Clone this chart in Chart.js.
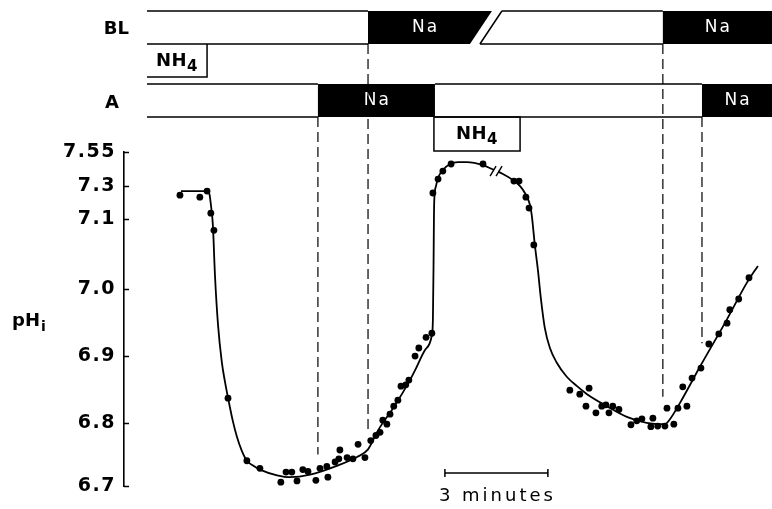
<!DOCTYPE html>
<html>
<head>
<meta charset="utf-8">
<script src="https://cdn.jsdelivr.net/npm/chart.js@4.4.0/dist/chart.umd.min.js"></script>
<style>
  html, body { margin: 0; padding: 0; background: #fff; }
</style>
</head>
<body>
<canvas id="phChart" width="772" height="509"></canvas>
<script>
// pH axis: ticks are not evenly spaced, the part above 7.1 is squeezed
const phTicks = [6.7, 6.8, 6.9, 7.0, 7.1, 7.3, 7.55];
const phTickLabels = ['6.7', '6.8', '6.9', '7.0', '7.1', '7.3', '7.55'];
const phTickSpacing = [0, 0.189, 0.389, 0.590, 0.799, 0.898, 1];

// measured pHi (time in minutes)
const dotTimes = [0.96, 1.54, 1.75, 1.86, 1.95, 2.36, 2.91, 3.29, 3.90, 4.05,
  4.22, 4.37, 4.54, 4.69, 4.92, 5.04, 5.24, 5.27, 5.48, 5.59,
  5.62, 5.83, 6.00, 6.15, 6.35, 6.52, 6.67, 6.79, 6.87, 6.99,
  7.08, 7.19, 7.31, 7.40, 7.54, 7.63, 7.81, 7.92, 8.13, 8.30,
  8.33, 8.48, 8.62, 8.86, 9.79, 10.69, 10.84, 11.04, 11.13, 11.27,
  12.32, 12.61, 12.88, 12.79, 13.08, 13.25, 13.37, 13.46, 13.57, 13.75,
  14.10, 14.27, 14.42, 14.68, 14.74, 14.88, 15.09, 15.15, 15.35, 15.47,
  15.61, 15.73, 15.88, 16.14, 16.37, 16.66, 16.90, 16.98, 17.24, 17.54];
const dotPH = [7.245, 7.233, 7.270, 7.136, 7.084, 6.837, 6.740, 6.728, 6.706, 6.722,
  6.722, 6.708, 6.726, 6.723, 6.709, 6.728, 6.731, 6.714, 6.738, 6.743,
  6.757, 6.745, 6.743, 6.766, 6.745, 6.772, 6.780, 6.785, 6.804, 6.798,
  6.813, 6.825, 6.834, 6.855, 6.857, 6.864, 6.900, 6.912, 6.928, 6.934,
  7.258, 7.351, 7.410, 7.462, 7.462, 7.337, 7.337, 7.233, 7.167, 7.063,
  6.849, 6.843, 6.852, 6.825, 6.815, 6.825, 6.827, 6.815, 6.825, 6.820,
  6.797, 6.803, 6.806, 6.794, 6.807, 6.795, 6.795, 6.822, 6.798, 6.822,
  6.854, 6.825, 6.867, 6.882, 6.918, 6.933, 6.949, 6.969, 6.985, 7.016];

// hand-fitted trace through the points
const fitTimes = [0.99, 1.75, 1.82, 1.86, 1.92, 1.98, 2.07, 2.18, 2.27, 2.39,
  2.50, 2.62, 2.76, 2.91, 3.10, 3.29, 3.79, 4.17, 4.75, 5.53, 6.12, 6.44,
  6.70, 6.87, 7.08, 7.28, 7.46, 7.66, 7.86, 8.10, 8.30, 8.33,
  8.35, 8.36, 8.37, 8.42, 8.48, 8.62, 8.83, 9.06, 9.32, 9.79,
  10.05, 10.37, 10.66, 10.87, 11.01, 11.16, 11.21, 11.30, 11.39, 11.48,
  11.59, 11.74, 11.94, 12.23, 12.53, 12.82, 13.40, 13.98, 14.56, 15.09,
  15.23, 15.53, 16.11, 16.89, 17.48, 17.80];
const fitPH = [7.270, 7.270, 7.250, 7.190, 7.091, 7.020, 6.946, 6.891, 6.862, 6.830,
  6.803, 6.778, 6.756, 6.740, 6.732, 6.726, 6.717, 6.714, 6.718, 6.732, 6.746, 6.758,
  6.785, 6.800, 6.815, 6.831, 6.846, 6.864, 6.884, 6.909, 6.931, 6.954,
  7.041, 7.100, 7.215, 7.300, 7.359, 7.418, 7.462, 7.476, 7.476, 7.454,
  7.425, 7.388, 7.344, 7.300, 7.258, 7.185, 7.124, 7.063, 7.027, 6.984,
  6.942, 6.912, 6.890, 6.869, 6.855, 6.843, 6.825, 6.809, 6.800, 6.798,
  6.805, 6.830, 6.884, 6.954, 7.009, 7.033];

// solution protocol, basolateral (BL) and apical (A) sides
const blStart = [0, 6.44, 9.70, 15.03];
const blEnd = [6.44, 9.41, 15.03, 18.21];
const blLabels = ['', 'Na', '', 'Na'];
const aStart = [0, 4.98, 8.39, 16.17];
const aEnd = [4.98, 8.39, 16.17, 18.21];
const aLabels = ['', 'Na', '', 'Na'];
const nh4Start = [0, 8.36];
const nh4End = [1.75, 10.87];

// dashed markers: Na switch times and where they stop on the trace
const dashTimes = [4.98, 6.44, 15.03, 16.17];
const dashSide = ['A', 'BL', 'BL', 'A'];
const dashEndPH = [6.750, 6.785, 6.839, 6.919];

const breakTime = 10.17, breakPH = 7.41;   // gap in the recording
const breakSlant = 0.64;                   // lean of the cut in the BL bar
const scaleBarStart = 8.68, scaleBarMinutes = 3;

class PhScale extends Chart.LinearScale {
  static id = 'phscale';
  static defaults = {};
  buildTicks() {
    return phTicks.map(v => ({ value: v }));
  }
  toDecimal(v) {
    for (let i = 1; i < phTicks.length; i++) {
      if (v <= phTicks[i] || i === phTicks.length - 1) {
        const f = (v - phTicks[i - 1]) / (phTicks[i] - phTicks[i - 1]);
        return phTickSpacing[i - 1] + f * (phTickSpacing[i] - phTickSpacing[i - 1]);
      }
    }
  }
  getPixelForValue(v) {
    return this.getPixelForDecimal(this.toDecimal(v));
  }
  getValueForPixel(p) {
    const d = this.getDecimalForPixel(p);
    for (let i = 1; i < phTickSpacing.length; i++) {
      if (d <= phTickSpacing[i] || i === phTickSpacing.length - 1) {
        const f = (d - phTickSpacing[i - 1]) / (phTickSpacing[i] - phTickSpacing[i - 1]);
        return phTicks[i - 1] + f * (phTicks[i] - phTicks[i - 1]);
      }
    }
  }
}
Chart.register(PhScale);

const rowBL = { top: 11, bottom: 44 };
const rowA = { top: 84, bottom: 117 };
const nh4Bottom = [77, 151];

function drawRow(ctx, x, starts, ends, labels, row, breakAfter) {
  starts.forEach((s, i) => {
    const lean0 = (breakAfter !== null && i === breakAfter + 1) ? breakSlant : 0;
    const lean1 = (breakAfter !== null && i === breakAfter) ? breakSlant : 0;
    const bl = x.getPixelForValue(s), tl = x.getPixelForValue(s + lean0);
    const br = x.getPixelForValue(ends[i]), tr = x.getPixelForValue(ends[i] + lean1);
    if (labels[i]) {
      ctx.fillStyle = '#000';
      ctx.beginPath();
      ctx.moveTo(bl, row.bottom);
      ctx.lineTo(br, row.bottom);
      ctx.lineTo(tr, row.top);
      ctx.lineTo(tl, row.top);
      ctx.closePath();
      ctx.fill();
      ctx.fillStyle = '#fff';
      ctx.font = '17px "DejaVu Sans"';
      ctx.letterSpacing = '2px';
      ctx.textAlign = 'center';
      ctx.textBaseline = 'middle';
      ctx.fillText(labels[i], (bl + br + tl + tr) / 4 + 1, (row.top + row.bottom) / 2);
    } else {
      ctx.beginPath();
      ctx.moveTo(tl, row.top);
      ctx.lineTo(tr, row.top);
      ctx.moveTo(bl, row.bottom);
      ctx.lineTo(br, row.bottom);
      if (lean0) {
        ctx.moveTo(bl, row.bottom);
        ctx.lineTo(tl, row.top);
      }
      ctx.stroke();
    }
  });
}

function drawNH4(ctx, cx, cy) {
  ctx.fillStyle = '#000';
  ctx.letterSpacing = '0.5px';
  ctx.textBaseline = 'alphabetic';
  ctx.textAlign = 'left';
  ctx.font = 'bold 18px "DejaVu Sans"';
  const w1 = ctx.measureText('NH').width;
  ctx.font = 'bold 15px "DejaVu Sans"';
  const w2 = ctx.measureText('4').width;
  const x0 = cx - (w1 + w2) / 2;
  ctx.font = 'bold 18px "DejaVu Sans"';
  ctx.fillText('NH', x0, cy + 5);
  ctx.font = 'bold 15px "DejaVu Sans"';
  ctx.fillText('4', x0 + w1, cy + 10);
}

const protocolPlugin = {
  id: 'protocol',
  beforeDraw(chart) {
    chart.ctx.letterSpacing = '1.5px';
  },
  afterDraw(chart) {
    const { ctx, scales: { x, y } } = chart;
    ctx.save();
    ctx.strokeStyle = '#000';
    ctx.lineWidth = 1.5;

    // inward tick marks on the pH axis
    y.ticks.forEach(t => {
      const py = Math.round(y.getPixelForValue(t.value)) + 0.5;
      ctx.beginPath();
      ctx.moveTo(y.right, py);
      ctx.lineTo(y.right + 5, py);
      ctx.stroke();
    });

    // solution bars
    drawRow(ctx, x, blStart, blEnd, blLabels, rowBL, 1);
    drawRow(ctx, x, aStart, aEnd, aLabels, rowA, null);

    // NH4 pulses
    ctx.lineWidth = 1.5;
    const n0l = x.getPixelForValue(nh4Start[0]), n0r = x.getPixelForValue(nh4End[0]);
    ctx.beginPath();
    ctx.moveTo(n0r, rowBL.bottom);
    ctx.lineTo(n0r, nh4Bottom[0]);
    ctx.lineTo(n0l, nh4Bottom[0]);
    ctx.stroke();
    drawNH4(ctx, (n0l + n0r) / 2, (rowBL.bottom + nh4Bottom[0]) / 2);
    const n1l = x.getPixelForValue(nh4Start[1]), n1r = x.getPixelForValue(nh4End[1]);
    ctx.strokeRect(n1l, rowA.bottom, n1r - n1l, nh4Bottom[1] - rowA.bottom);
    drawNH4(ctx, (n1l + n1r) / 2, (rowA.bottom + nh4Bottom[1]) / 2);

    // row names
    ctx.fillStyle = '#000';
    ctx.font = 'bold 18px "DejaVu Sans"';
    ctx.letterSpacing = '0px';
    ctx.textBaseline = 'middle';
    ctx.textAlign = 'right';
    ctx.fillText('BL', 129, 29);
    ctx.textAlign = 'center';
    ctx.fillText('A', 112, 103);

    // pHi axis title
    ctx.textAlign = 'left';
    ctx.textBaseline = 'alphabetic';
    ctx.font = 'bold 18px "DejaVu Sans"';
    ctx.fillText('pH', 12, 326);
    const wpH = ctx.measureText('pH').width;
    ctx.font = 'bold 14px "DejaVu Sans"';
    ctx.fillText('i', 13 + wpH, 331);

    // dashed markers
    ctx.setLineDash([10, 5]);
    ctx.lineWidth = 1.2;
    dashTimes.forEach((t, i) => {
      const px = x.getPixelForValue(t);
      const top = dashSide[i] === 'BL' ? rowBL.bottom : rowA.bottom;
      ctx.beginPath();
      ctx.moveTo(px, top);
      ctx.lineTo(px, y.getPixelForValue(dashEndPH[i]));
      ctx.stroke();
    });
    ctx.setLineDash([]);

    // break in the trace
    const bx = x.getPixelForValue(breakTime), by = y.getPixelForValue(breakPH);
    ctx.fillStyle = '#fff';
    ctx.fillRect(bx - 2, by - 4, 4, 8);
    ctx.lineWidth = 1.4;
    [-3, 3].forEach(dx => {
      ctx.beginPath();
      ctx.moveTo(bx + dx - 3, by + 5);
      ctx.lineTo(bx + dx + 3, by - 5);
      ctx.stroke();
    });

    // time scale bar
    const s0 = x.getPixelForValue(scaleBarStart);
    const s1 = x.getPixelForValue(scaleBarStart + scaleBarMinutes);
    const sy = 473;
    ctx.lineWidth = 1.5;
    ctx.beginPath();
    ctx.moveTo(s0, sy); ctx.lineTo(s1, sy);
    ctx.moveTo(s0, sy - 4); ctx.lineTo(s0, sy + 4);
    ctx.moveTo(s1, sy - 4); ctx.lineTo(s1, sy + 4);
    ctx.stroke();
    ctx.fillStyle = '#000';
    ctx.font = '18px "DejaVu Sans"';
    ctx.letterSpacing = '3px';
    ctx.textAlign = 'center';
    ctx.textBaseline = 'middle';
    ctx.fillText('3 minutes', (s0 + s1) / 2 + 1, 496);
    ctx.restore();
  }
};

new Chart(document.getElementById('phChart'), {
  type: 'line',
  data: {
    datasets: [{
      data: fitTimes.map((t, i) => ({ x: t, y: fitPH[i] })),
      borderColor: '#000',
      borderWidth: 1.8,
      pointRadius: 0,
      cubicInterpolationMode: 'monotone',
      fill: false
    }, {
      data: dotTimes.map((t, i) => ({ x: t, y: dotPH[i] })),
      showLine: false,
      pointRadius: 3.4,
      pointBackgroundColor: '#000',
      pointBorderWidth: 0
    }]
  },
  options: {
    responsive: false,
    animation: false,
    layout: { autoPadding: false, padding: { top: 152, bottom: 23, left: 0, right: 0 } },
    plugins: { legend: { display: false }, tooltip: { enabled: false } },
    scales: {
      x: { type: 'linear', min: -0.67, max: 18.21, display: false },
      y: {
        type: 'phscale',
        min: 6.7,
        max: 7.55,
        border: { display: true, color: '#000', width: 1.6 },
        grid: { display: true, drawOnChartArea: false, drawTicks: false },
        ticks: {
          color: '#000',
          padding: 8,
          font: { family: 'DejaVu Sans', weight: 'bold', size: 19 },
          callback: (v, i) => phTickLabels[i]
        },
        afterFit: s => { s.width = 124; }
      }
    }
  },
  plugins: [protocolPlugin]
});
</script>
</body>
</html>
